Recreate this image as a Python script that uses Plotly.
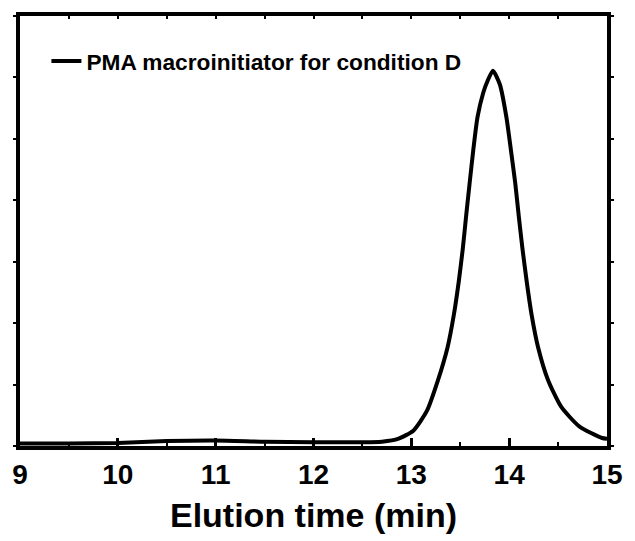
import plotly.graph_objects as go

# Elution time (min) and normalized detector signal (a.u.)
elution_time = [9.0, 9.5, 10.0, 10.5, 11.0, 11.5, 12.0, 12.4, 12.7, 12.87, 13.02,
                13.16, 13.27, 13.37, 13.435, 13.485, 13.526, 13.56, 13.596, 13.633,
                13.676, 13.735, 13.781, 13.834, 13.905, 13.972, 14.018, 14.062,
                14.098, 14.136, 14.179, 14.229, 14.296, 14.397, 14.531, 14.716,
                14.95, 15.0]
signal = [0.008, 0.008, 0.010, 0.016, 0.018, 0.014, 0.012, 0.012, 0.014, 0.024, 0.05,
          0.115, 0.212, 0.321, 0.428, 0.536, 0.642, 0.749, 0.856, 0.963,
          1.070, 1.150, 1.190, 1.222, 1.177, 1.070, 0.963, 0.856,
          0.749, 0.642, 0.536, 0.428, 0.321, 0.215, 0.128, 0.064,
          0.026, 0.024]
series_name = "PMA macroinitiator for condition D"
x_ticks = [9, 10, 11, 12, 13, 14, 15]
x_title = "Elution time (min)"

FONT = "Liberation Sans, Arial, sans-serif"

fig = go.Figure()
fig.add_trace(go.Scatter(
    x=elution_time, y=signal, mode="lines", name=series_name,
    line=dict(color="black", width=4, shape="spline", smoothing=0.6),
))
# invisible trace to carry top-axis ticks
fig.add_trace(go.Scatter(x=[9, 15], y=[None, None], xaxis="x2", showlegend=False,
                         hoverinfo="skip"))

fig.update_layout(
    width=635, height=541,
    margin=dict(l=18, r=20, t=14, b=91),
    paper_bgcolor="white", plot_bgcolor="white",
    showlegend=True,
    legend=dict(x=0.045, y=0.945, xanchor="left", yanchor="top",
                bgcolor="rgba(0,0,0,0)", borderwidth=0,
                font=dict(family=FONT, size=22.7, color="black", weight="bold")),
    xaxis=dict(range=[9, 15], tickvals=x_ticks, ticktext=[str(v) for v in x_ticks],
               ticks="inside", ticklen=8, tickwidth=2.5, tickcolor="black",
               minor=dict(dtick=0.5, ticks="inside", ticklen=4, tickwidth=2, tickcolor="black"),
               showline=True, linewidth=4, linecolor="black", mirror=True,
               showgrid=False, zeroline=False,
               tickfont=dict(family=FONT, size=28, color="black", weight="bold"),
               title=dict(text=x_title, standoff=16,
                          font=dict(family=FONT, size=34, color="black", weight="bold"))),
    xaxis2=dict(range=[9, 15], overlaying="x", side="top", matches="x",
                tickvals=x_ticks, showticklabels=False,
                ticks="inside", ticklen=3, tickwidth=2, tickcolor="black",
                minor=dict(dtick=0.5, ticks="inside", ticklen=3, tickwidth=2, tickcolor="black"),
                showline=False, showgrid=False, zeroline=False),
    yaxis=dict(range=[0, 1.4], dtick=0.2, tick0=0, showticklabels=False,
               ticks="outside", ticklen=3, tickwidth=2, tickcolor="black",
               showline=True, linewidth=4, linecolor="black", mirror="ticks",
               showgrid=False, zeroline=False),
)

fig.write_html("out.html")
